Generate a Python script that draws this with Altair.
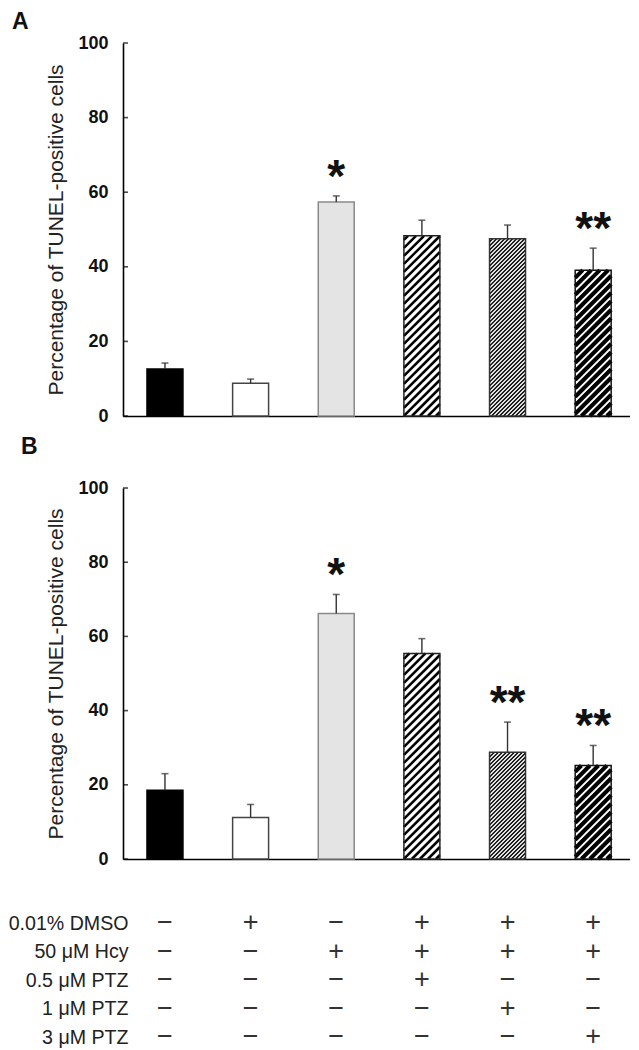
import altair as alt
import pandas as pd
import numpy as np

# ---------------- data ----------------
groups = ["Control", "DMSO", "Hcy", "Hcy+0.5PTZ", "Hcy+1PTZ", "Hcy+3PTZ"]
positions = [0, 1, 2, 3, 4, 5]

values_A = [12.6, 8.8, 57.4, 48.3, 47.5, 39.1]
errors_A = [1.6, 1.1, 1.6, 4.2, 3.7, 5.9]
signif_A = ["", "", "*", "", "", "**"]

values_B = [18.5, 11.2, 66.2, 55.4, 28.8, 25.2]
errors_B = [4.5, 3.5, 5.1, 4.0, 8.1, 5.4]
signif_B = ["", "", "*", "", "**", "**"]

y_tick_values = [0, 20, 40, 60, 80, 100]

row_labels = ["0.01% DMSO", "50 \u03bcM Hcy", "0.5 \u03bcM PTZ", "1 \u03bcM PTZ", "3 \u03bcM PTZ"]
row_dmso = ["\u2212", "+", "\u2212", "+", "+", "+"]
row_hcy = ["\u2212", "\u2212", "+", "+", "+", "+"]
row_ptz05 = ["\u2212", "\u2212", "\u2212", "+", "\u2212", "\u2212"]
row_ptz1 = ["\u2212", "\u2212", "\u2212", "\u2212", "+", "\u2212"]
row_ptz3 = ["\u2212", "\u2212", "\u2212", "\u2212", "\u2212", "+"]

# ---------------- styles ----------------
FONT = "Liberation Sans"
W = 507
H_A = 373
H_B = 371
XMIN, XMAX = -0.49, 5.43
HALF = 0.21
bar_fills = ["#000000", "#ffffff", "#e4e4e4", "#ffffff", "#ffffff", "#ffffff"]
bar_strokes = ["#000000", "#444444", "#8a8a8a", "#222222", "#333333", "#111111"]
# hatch: index -> (vertical period px, stroke width px)
hatch_style = {3: (8.0, 2.5), 4: (4.0, 1.4), 5: (8.5, 4.0)}

x_scale = alt.Scale(domain=[XMIN, XMAX], nice=False, zero=False)


def panel(vals, errs, sig, H, title, tdx, toff):
    y_scale = alt.Scale(domain=[0, 100], nice=False)
    px_x = W / (XMAX - XMIN)
    px_y = H / 100.0
    bars = pd.DataFrame({
        "group": groups,
        "pos": positions,
        "val": vals,
        "err": errs,
        "sig": sig,
    })
    bars["xl"] = bars["pos"] - HALF
    bars["xr"] = bars["pos"] + HALF
    bars["zero"] = 0.0
    bars["top"] = bars["val"] + bars["err"]
    bars["fill"] = bar_fills
    bars["stroke"] = bar_strokes

    # hatch segments derived from bar values (clipped to each bar)
    segs = []
    bw = 2 * HALF * px_x
    for i, (period, sw) in hatch_style.items():
        hpx = vals[i] * px_y
        c = -bw + period / 2
        while c < hpx:
            t0 = max(0.0, -c)
            t1 = min(bw, hpx - c)
            if t1 > t0:
                segs.append({
                    "hx1": positions[i] - HALF + t0 / px_x,
                    "hx2": positions[i] - HALF + t1 / px_x,
                    "hy1": (c + t0) / px_y,
                    "hy2": (c + t1) / px_y,
                    "sw": sw,
                })
            c += period
    hatch = pd.DataFrame(segs)

    ticks = pd.DataFrame({"tx": [XMIN] * len(y_tick_values), "tv": y_tick_values})

    x_enc = alt.X("xl:Q", scale=x_scale,
                  axis=alt.Axis(title=None, labels=False, ticks=False, grid=False,
                                domainColor="#000", domainWidth=1.6))
    y_enc = alt.Y("val:Q", scale=y_scale,
                  axis=alt.Axis(title="Percentage of TUNEL-positive cells", values=y_tick_values,
                                ticks=False, grid=False, domainColor="#000", domainWidth=1.6,
                                labelFont=FONT, labelFontSize=18, labelFontWeight="bold",
                                labelColor="#111", labelPadding=15,
                                titleFont=FONT, titleFontSize=21, titleFontWeight="normal",
                                titleColor="#222", titlePadding=11))

    fill_layer = alt.Chart(bars).mark_rect(strokeWidth=0).encode(
        x=x_enc, x2="xr:Q", y=y_enc, y2="zero:Q",
        fill=alt.Fill("fill:N", scale=None))
    hatch_layer = alt.Chart(hatch).mark_rule(color="#000", strokeCap="butt").encode(
        x=alt.X("hx1:Q", scale=x_scale), x2="hx2:Q",
        y=alt.Y("hy1:Q", scale=y_scale), y2="hy2:Q",
        strokeWidth=alt.StrokeWidth("sw:Q", scale=None))
    outline = alt.Chart(bars).mark_rect(fillOpacity=0, strokeWidth=1.5).encode(
        x=alt.X("xl:Q", scale=x_scale), x2="xr:Q",
        y=alt.Y("val:Q", scale=y_scale), y2="zero:Q",
        stroke=alt.Stroke("stroke:N", scale=None))
    err_line = alt.Chart(bars).mark_rule(color="#333", strokeWidth=1.4).encode(
        x=alt.X("pos:Q", scale=x_scale), y=alt.Y("val:Q", scale=y_scale), y2="top:Q")
    err_cap = alt.Chart(bars).mark_tick(orient="horizontal", size=7, thickness=1.6,
                                        color="#333").encode(
        x=alt.X("pos:Q", scale=x_scale), y=alt.Y("top:Q", scale=y_scale))
    stars = alt.Chart(bars).mark_text(font=FONT, fontSize=46, fontWeight="bold",
                                      baseline="alphabetic", dy=-4, color="#111").encode(
        x=alt.X("pos:Q", scale=x_scale), y=alt.Y("top:Q", scale=y_scale), text="sig:N")
    in_ticks = alt.Chart(ticks).mark_tick(orient="horizontal", size=5, thickness=1.6,
                                          xOffset=2.5, color="#000").encode(
        x=alt.X("tx:Q", scale=x_scale), y=alt.Y("tv:Q", scale=y_scale))

    return alt.layer(fill_layer, hatch_layer, outline, err_line, err_cap, stars, in_ticks).properties(
        width=W, height=H,
        title=alt.TitleParams(title, anchor="start", font=FONT, fontSize=23, fontWeight="bold",
                              color="#111", dx=tdx, offset=toff))


chart_A = panel(values_A, errors_A, signif_A, H_A, "A", -34, 0)
chart_B = panel(values_B, errors_B, signif_B, H_B, "B", -25, 20)

rows = [row_dmso, row_hcy, row_ptz05, row_ptz1, row_ptz3]
tab = []
for r, lab in enumerate(row_labels):
    for i in positions:
        tab.append({"row": lab, "pos": i, "sym": rows[r][i]})
tab = pd.DataFrame(tab)

table = alt.Chart(tab).mark_text(font=FONT, fontSize=27, color="#333", baseline="middle").encode(
    x=alt.X("pos:Q", scale=x_scale, axis=None),
    y=alt.Y("row:N", sort=row_labels,
            scale=alt.Scale(type="point", padding=0.772, align=1),
            axis=alt.Axis(title=None, domain=False, ticks=False, grid=False,
                          labelFont=FONT, labelFontSize=19.6, labelColor="#222",
                          labelPadding=-5, labelLimit=0, labelAlign="right")),
    text="sym:N",
).properties(width=W, height=158)

chart = alt.vconcat(chart_A, chart_B, table, spacing=11).properties(
    padding={"left": 0, "top": 3, "right": 0, "bottom": 0}
).configure_view(stroke=None)

chart.save("out.html", embed_options={"renderer": "svg", "actions": False})
